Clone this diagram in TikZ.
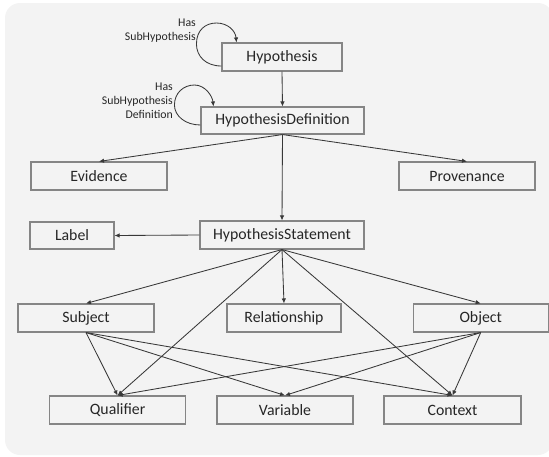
\documentclass[tikz,border=0pt]{standalone}
\usepackage{fontspec}
\setmainfont{Carlito}
\usetikzlibrary{arrows.meta}
\definecolor{bgc}{HTML}{F3F3F3}
\definecolor{boxline}{HTML}{858585}
\definecolor{arr}{HTML}{383838}
\definecolor{txt}{HTML}{262626}
\begin{document}
\begin{tikzpicture}[x=1pt,y=-1pt,
  box/.style={draw=boxline, line width=1.1pt, fill=bgc, inner sep=0pt, minimum height=28pt, text=txt, font=\fontsize{15.8}{19}\selectfont},
  link/.style={draw=arr, line width=0.85pt, -{Latex[length=5pt,width=4.5pt]}},
  note/.style={align=right, inner sep=0pt, anchor=east, text=txt, font=\fontsize{11.8}{14}\selectfont}]
\useasboundingbox (0,0) rectangle (549,456);
\fill[bgc, rounded corners=15pt] (5,3) rectangle (553,455);

\node[box, minimum width=120pt] (hyp) at (282,57) {Hypothesis};
\node[box, minimum width=163pt, minimum height=27pt] (hdef) at (282.5,120.5) {HypothesisDefinition};
\node[box, minimum width=136pt] (evid) at (99,176) {Evidence};
\node[box, minimum width=136pt] (prov) at (467,176) {Provenance};
\node[box, minimum width=84pt, minimum height=27pt] (label) at (72,235.5) {Label};
\node[box, minimum width=164pt] (hstat) at (282,235) {HypothesisStatement};
\node[box, minimum width=136pt] (subj) at (86,318) {Subject};
\node[box, minimum width=114pt] (rel) at (284,318) {Relationship};
\node[box, minimum width=135pt] (obj) at (480.7,318) {Object};
\node[box, minimum width=136pt] (qual) at (117.6,410) {Qualifier};
\node[box, minimum width=136pt] (var) at (285,410) {Variable};
\node[box, minimum width=137pt] (ctx) at (452.5,410) {Context};

\node[note] (n1) at (196,31) {Has\\SubHypothesis};
\node[note] (n2) at (173,101) {Has\\SubHypothesis\\Definition};

\draw[link] ([yshift=-9pt]hyp.west) .. controls +(-16,0) and +(0,12) .. +(-25,-22)
  .. controls +(0,-14) and +(-11,0) .. +(-5,-43)
  .. controls +(11,0) and +(-1,-12) .. ([xshift=15pt]hyp.north west);
\draw[link] ([yshift=-4.5pt]hdef.west) .. controls +(-15,0) and +(0,11) .. +(-26,-20)
  .. controls +(0,-12) and +(-11,0) .. +(-6,-40)
  .. controls +(11,0) and +(-1,-10) .. ([xshift=13pt]hdef.north west);

\draw[link] (hyp.south) -- (hdef.north);
\draw[link] (hdef.south) -- (evid.north);
\draw[link] (hdef.south) -- (prov.north);
\draw[link] (hdef.south) -- (hstat.north);
\draw[link] (hstat.west) -- (label.east);
\draw[link] (hstat.south) -- (subj.north);
\draw[link] (hstat.south) -- (rel.north);
\draw[link] (hstat.south) -- (obj.north);
\draw[link] (hstat.south) -- (qual.north);
\draw[link] (hstat.south) -- (ctx.north);
\draw[link] (subj.south) -- (qual.north);
\draw[link] (subj.south) -- (var.north);
\draw[link] (subj.south) -- (ctx.north);
\draw[link] (obj.south) -- (qual.north);
\draw[link] (obj.south) -- (var.north);
\draw[link] (obj.south) -- (ctx.north);
\end{tikzpicture}
\end{document}
